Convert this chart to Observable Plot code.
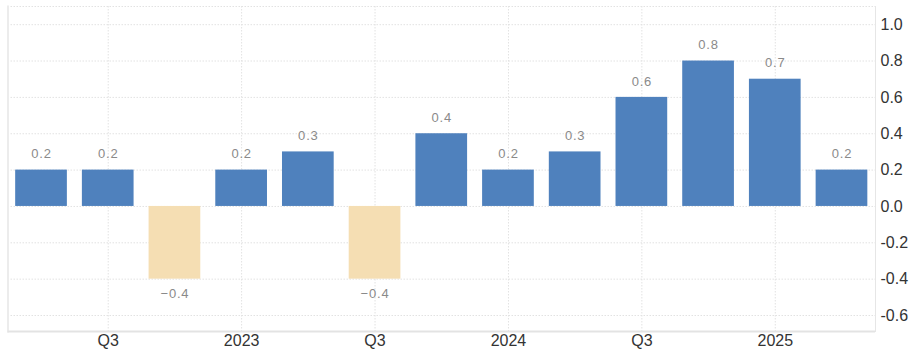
<!DOCTYPE html>
<html>
<head>
<meta charset="utf-8">
<script src="https://cdn.jsdelivr.net/npm/d3@7"></script>
<script src="https://cdn.jsdelivr.net/npm/@observablehq/plot@0.6"></script>
<style>
  html, body { margin: 0; padding: 0; background: #fff; }
  .vlabel text { letter-spacing: 0.8px; }
</style>
</head>
<body>
<div id="chart"></div>
<script>
const quarters = ["2022Q2","2022Q3","2022Q4","2023Q1","2023Q2","2023Q3","2023Q4","2024Q1","2024Q2","2024Q3","2024Q4","2025Q1","2025Q2"];
const values = [0.2, 0.2, -0.4, 0.2, 0.3, -0.4, 0.4, 0.2, 0.3, 0.6, 0.8, 0.7, 0.2];
const tickQuarters = ["2022Q3","2023Q1","2023Q3","2024Q1","2024Q3","2025Q1"];
const tickLabels = ["Q3","2023","Q3","2024","Q3","2025"];
const yTicks = [-0.6, -0.4, -0.2, 0.0, 0.2, 0.4, 0.6, 0.8, 1.0];
const yDomain = [-0.688, 1.1];
const posColor = "#4f81bd";
const negColor = "#f5deb3";

const data = quarters.map((q, i) => ({q, v: values[i]}));
const labelOf = new Map(tickQuarters.map((q, i) => [q, tickLabels[i]]));
const fmt = d3.format(".1f");
const gridStyle = {stroke: "#e2e2e2", strokeDasharray: "1.5,1.5", strokeWidth: 1};

const chart = Plot.plot({
  width: 917,
  height: 356,
  marginLeft: 7.5,
  marginRight: 42,
  marginTop: 6,
  marginBottom: 25,
  style: {fontFamily: "'Liberation Sans', Arial, sans-serif", background: "#fff", overflow: "visible"},
  x: {type: "band", domain: quarters, paddingInner: 0.225, paddingOuter: 0.115, round: false, axis: null, label: null},
  y: {domain: yDomain, axis: null, label: null},
  color: {type: "identity"},
  marks: [
    Plot.ruleY(yTicks, gridStyle),
    Plot.ruleY([yDomain[1]], gridStyle),
    Plot.ruleX(tickQuarters, {x: d => d, ...gridStyle}),
    Plot.frame({anchor: "left", stroke: "#ececec", strokeWidth: 2}),
    Plot.frame({anchor: "right", stroke: "#e6e6e6", strokeWidth: 1}),
    Plot.ruleY([yDomain[0]], {stroke: "#e3e3e3", strokeWidth: 2}),
    Plot.barY(data, {x: "q", y: "v", fill: d => d.v < 0 ? negColor : posColor}),
    Plot.text(data.filter(d => d.v >= 0), {x: "q", y: "v", text: d => fmt(d.v), dy: -16, fill: "#8a8a8a", fontSize: 13, lineAnchor: "middle", className: "vlabel"}),
    Plot.text(data.filter(d => d.v < 0), {x: "q", y: "v", text: d => fmt(d.v), dy: 15, fill: "#8a8a8a", fontSize: 13, lineAnchor: "middle", className: "vlabel"}),
    Plot.axisY({anchor: "right", ticks: yTicks, tickSize: 0, tickPadding: 5, fontSize: 16, fill: "#333", label: null, tickFormat: d => d.toFixed(1)}),
    Plot.axisX({anchor: "bottom", ticks: tickQuarters, tickSize: 0, tickPadding: 3, fontSize: 16, fill: "#333", label: null, tickFormat: d => labelOf.get(d)})
  ]
});
document.getElementById("chart").appendChild(chart);
</script>
</body>
</html>
